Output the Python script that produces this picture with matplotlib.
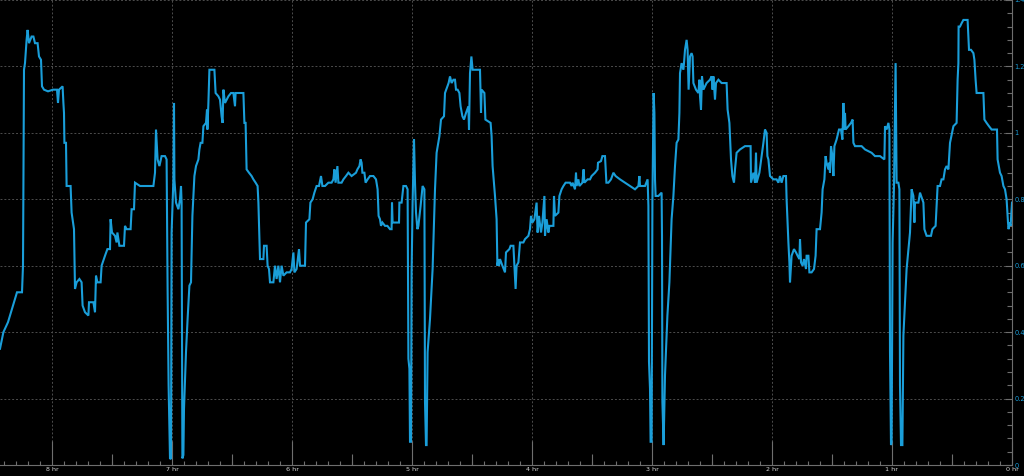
import matplotlib
matplotlib.use("Agg")
import matplotlib.pyplot as plt
from matplotlib.ticker import MultipleLocator, FixedLocator

# time in minutes before now
minutes_ago = [
    506, 505, 504.3, 502, 499.5, 497.5, 495, 494.5, 494, 493.5, 492.7, 492.2, 491.5, 490.2, 489.3,
    488.5, 487.2, 486.5, 485.5, 485, 484, 482, 479.5, 477.5, 477, 476.5, 474.7, 474.3, 474, 473.8,
    473, 472.7, 470.7, 470.2, 469, 468.5, 467.7, 466.3, 465.2, 464.7, 463.5, 461.8, 461.5, 459.3,
    458.5, 458, 457.3, 455.7, 455.2, 453.5, 452.3, 451, 450.7, 450, 448.5, 447.7, 447.3, 446.3,
    445.2, 444, 443.5, 442.7, 440.7, 440.2, 439, 438.5, 436, 429.3, 428.5, 428, 427.2, 426.3,
    425.2, 423.5, 422.7, 422.2, 421.7, 421,
    420.5, 420.2, 419.3, 419, 418.8, 418, 416.8, 416, 415.5, 415.2, 414.8, 414.3, 414, 413, 412.2,
    411.3, 410.5, 409.8, 408.8, 408, 406.8, 406.3, 405.7, 404.8, 404.3, 403, 402.5, 402.3, 401.8,
    401.3, 399.3, 398.8, 398.2, 396.8, 396, 395.2, 394.7, 394.3, 393.5, 391.8, 390.5, 389.3, 388.5,
    388.2, 386.5, 385.2, 384.3, 383.8, 383.2, 382.7, 381.5, 380.2, 379.3, 378.2, 377.2, 376.8, 376,
    374.3, 374, 372.7, 372.2, 371.5, 371, 369.3, 368.5, 367.7, 366.8, 366, 365.2, 364.3, 362.7,
    361, 360.2, 359.3, 358.8, 357.7, 356.5, 356, 353.5, 353, 351.3, 350.8, 349.7, 348.8, 347.7,
    346.5, 345.5, 344.8, 343.5, 341.8, 340.2,
    339.3, 338.8, 338.2, 337.3, 336.8, 335.2, 334.3, 333, 331.8, 330.2, 328, 327.3, 326.3, 325.7,
    325.2, 324.8, 323.8, 323.2, 322.2, 321, 319.3, 318, 317.2, 316.7, 316, 315.5, 314.8, 313.5,
    312.3, 311, 310.2, 310, 309.7, 306.5, 306.3, 305.2, 304.3, 303, 302.2, 301.8, 301.3, 301,
    300.5, 300.2, 299.7, 299, 298.5, 298, 297.3, 296.8, 295.7, 294.7, 293.8, 293.5, 293, 292.7,
    292.2, 291, 289.7, 288.5, 287.7, 286.3, 285.5, 284, 283.5, 282.3, 281.7, 281, 280.2, 279.3,
    278.5, 278, 277.2, 276.3, 275.7, 274.8, 274, 273, 271.8, 271.5, 271, 270.3, 269.7, 269, 267.7,
    266, 265.5, 265.2, 263.8, 263.3, 260.7, 260.2, 259.7, 258.5, 257.7, 257.3, 256.8,
    256.5, 256, 254.8, 253.5, 253, 251.3, 250.7, 249.3, 248.8, 248.2, 247.7, 246.8, 246, 244.3,
    243.5, 241.8, 241, 240.5, 239.8, 238.8, 237.7, 237.2, 236.5, 235.5, 234.8, 233.8, 233.5,
    232.7, 231.8, 231.3, 229.3, 229, 228.5, 226.8, 226.3, 225.2, 224.3, 223.2, 222.2, 221, 220.2,
    219.7, 218.5, 218, 217.7, 216.8, 216.3, 214.8, 214.2, 213.8, 212.2, 211, 210.2, 208.5, 207.2,
    207, 205.5, 204.8, 203.5, 202.8, 201.8, 200.5, 199.3, 198.2, 196, 193.5, 191, 188.5, 186.8,
    186.3, 186, 183.5, 182.2, 181.8, 181.5, 181, 180.7, 180.2, 179.8, 179.2, 178.8, 178.5, 178.2,
    176.8, 175.2, 175, 174.8, 174.2,
    173.5, 172.3, 171.3, 170.2, 169.3, 168.5, 167.7, 166.8, 166.3, 166, 165.2, 164.3, 164, 163.5,
    162.7, 162.2, 161.7, 161, 160.2, 159.7, 159.3, 158, 156.8, 156.3, 156, 155.5, 155, 154.3,
    153.5, 152.7, 151, 150.2, 149.7, 149.3, 148.5, 148, 146.8, 145.2, 143.5, 142.7, 142.2, 141.3,
    141, 140.5, 139.8, 139, 138.5, 137.7, 136, 133.5, 131.3, 130.7, 130.5, 129.3, 128.5, 128,
    127.7, 126.8, 126.3, 125.2, 124.3, 123.5, 122.7, 122.3, 121.8, 121, 119.3, 117.7, 116.8, 116,
    115.2, 114.3, 113, 112.7, 111.8, 111.3, 111, 110.2, 109, 108, 107.2, 106.3, 106, 105.5, 104.7,
    104, 103, 102.7, 101.8, 101.3, 100.2, 99, 98.2, 97.7, 96, 95.2, 94.7, 93.8, 93.2, 92.7, 91.8,
    91.5, 91, 90.5, 89.8, 89.3, 88.8, 87.7, 86.5, 85.5, 84.8, 84.3, 83.8, 83.5, 83.2, 81.8, 80.5,
    79.7, 79.3, 78.5, 76.8, 75.2, 73.5, 71.8, 70.2, 68.5, 66, 63.8, 63.5, 62.7, 61.8, 61.3, 61,
    60.5, 60.2, 59.7, 59, 58.5, 58.2, 57.7, 56.8, 56.3, 56, 55.5, 54.8, 54.3, 52.7, 51, 50.2, 49.3,
    48.8, 48.5, 46.8, 46, 44.3, 43.8, 42.7, 40.5, 39.8, 38.2, 37.2, 36, 35.2, 34.3, 33.5, 32.7,
    31.8, 31, 29.3, 27.7, 27.2, 26.8, 26.7, 26, 25.2, 24.3, 22.7, 22.2, 21.5, 20.5, 19.3, 18.8,
    18.2, 17.7, 14.3, 13.8, 12.7, 11.5, 10.2, 7.5, 7.2, 6, 5.2, 4.3, 3.5, 2.7, 2, 1.7, 1.2, 0.7, 0,
]
values = [
    0.35, 0.38, 0.40, 0.43, 0.48, 0.52, 0.52, 0.60, 1.19, 1.21, 1.28, 1.31, 1.27, 1.29, 1.29,
    1.27, 1.27, 1.23, 1.22, 1.14, 1.13, 1.125, 1.13, 1.13, 1.09, 1.13, 1.14, 1.09, 1.06, 0.97,
    0.97, 0.84, 0.84, 0.76, 0.71, 0.53, 0.55, 0.56, 0.55, 0.48, 0.46, 0.45, 0.49, 0.49,
    0.46, 0.57, 0.55, 0.55, 0.60, 0.63, 0.65, 0.65, 0.74, 0.70, 0.69, 0.67, 0.70, 0.66,
    0.66, 0.66, 0.72, 0.71, 0.71, 0.77, 0.77, 0.85, 0.84, 0.84, 0.88, 1.01, 0.92, 0.90,
    0.93, 0.93, 0.92, 0.53, 0.24, 0.02,
    0.018, 0.70, 0.86, 1.09, 0.86, 0.79, 0.77, 0.80, 0.84, 0.79, 0.02, 0.03, 0.17, 0.34, 0.44,
    0.54, 0.55, 0.75, 0.87, 0.90, 0.92, 0.95, 0.97, 0.97, 1.02, 1.03, 1.07, 1.01, 1.09,
    1.19, 1.19, 1.19, 1.12, 1.11, 1.10, 1.05, 1.03, 1.13, 1.09, 1.11, 1.12, 1.12, 1.08,
    1.12, 1.12, 1.12, 1.12, 1.03, 1.03, 0.89, 0.88, 0.87, 0.86, 0.85, 0.84, 0.79, 0.62,
    0.62, 0.66, 0.66, 0.60, 0.59, 0.55, 0.55, 0.60, 0.56, 0.60, 0.55, 0.60, 0.57, 0.58,
    0.58, 0.59, 0.64, 0.58, 0.59, 0.65, 0.60, 0.60, 0.73, 0.74, 0.79, 0.80, 0.82, 0.84,
    0.84, 0.87, 0.84, 0.84, 0.85, 0.85,
    0.86, 0.89, 0.85, 0.90, 0.85, 0.85, 0.86, 0.87, 0.88, 0.87, 0.88, 0.89, 0.90, 0.92,
    0.91, 0.88, 0.88, 0.85, 0.86, 0.87, 0.87, 0.86, 0.83, 0.75, 0.74, 0.72, 0.73, 0.72,
    0.72, 0.71, 0.71, 0.79, 0.73, 0.73, 0.79, 0.79, 0.84, 0.84, 0.83, 0.32, 0.29, 0.07,
    0.07, 0.58, 0.79, 0.98, 0.85, 0.76, 0.71, 0.72, 0.78, 0.84, 0.83, 0.19, 0.06, 0.06,
    0.34, 0.44, 0.59, 0.83, 0.94, 0.99, 1.04, 1.05, 1.12, 1.14, 1.15, 1.17, 1.15, 1.16,
    1.16, 1.13, 1.13, 1.12, 1.08, 1.05, 1.04, 1.06, 1.08, 1.01, 1.18, 1.23, 1.19, 1.19, 1.19,
    1.19, 1.06, 1.13, 1.12, 1.04, 1.03, 0.99, 0.90, 0.81, 0.74, 0.60, 0.62,
    0.60, 0.62, 0.60, 0.58, 0.64, 0.65, 0.66, 0.66, 0.60, 0.53, 0.60, 0.61, 0.67, 0.67,
    0.68, 0.69, 0.71, 0.75, 0.73, 0.74, 0.79, 0.70, 0.75, 0.70, 0.73, 0.81, 0.69,
    0.74, 0.70, 0.72, 0.72, 0.81, 0.75, 0.76, 0.81, 0.83, 0.84, 0.85, 0.85, 0.85, 0.84,
    0.85, 0.83, 0.88, 0.84, 0.86, 0.84, 0.85, 0.89, 0.85, 0.86, 0.86, 0.87, 0.88, 0.89,
    0.91, 0.915, 0.93, 0.93, 0.85, 0.85, 0.86, 0.88, 0.87, 0.86, 0.85, 0.84, 0.83, 0.84,
    0.87, 0.84, 0.84, 0.86, 0.78, 0.31, 0.23, 0.07, 0.07, 0.79, 1.12, 1.06, 0.86, 0.81,
    0.81, 0.82, 0.69, 0.19, 0.06,
    0.27, 0.45, 0.55, 0.74, 0.81, 0.90, 0.97, 0.98, 1.06, 1.18, 1.21, 1.19, 1.21, 1.25,
    1.28, 1.25, 1.13, 1.23, 1.24, 1.23, 1.15, 1.13, 1.12, 1.16, 1.11, 1.07, 1.17, 1.13,
    1.14, 1.15, 1.16, 1.17, 1.13, 1.17, 1.10, 1.15, 1.16, 1.15, 1.15, 1.15, 1.07, 1.03,
    0.99, 0.92, 0.87, 0.85, 0.89, 0.94, 0.95, 0.96, 0.96, 0.96, 0.85, 0.88, 0.85, 0.94,
    0.85, 0.87, 0.88, 0.93, 0.97, 1.01, 1.00, 0.93, 0.92, 0.87, 0.86, 0.86, 0.85, 0.87,
    0.85, 0.87, 0.87, 0.80, 0.67, 0.61, 0.55, 0.63, 0.65, 0.64, 0.63, 0.62, 0.68, 0.61, 0.60,
    0.62, 0.59, 0.63, 0.63, 0.58, 0.58, 0.59, 0.63, 0.71, 0.71, 0.76, 0.83, 0.86, 0.93, 0.91, 0.89,
    0.91, 0.88, 0.96, 0.93, 0.87, 0.96, 0.98, 1.01, 1.01, 0.98, 1.09, 1.01, 1.06, 1.01, 1.02, 1.03,
    1.04, 0.97, 0.96, 0.96, 0.96, 0.95, 0.945, 0.94, 0.93, 0.93, 0.92, 1.02, 1.01, 1.03, 1.01, 0.34,
    0.06, 0.07, 0.67, 0.84, 1.06, 1.21, 0.85, 0.85, 0.83, 0.24, 0.06, 0.06, 0.39, 0.59, 0.70, 0.83, 0.81,
    0.73, 0.79, 0.79, 0.82, 0.79, 0.71, 0.69, 0.69, 0.71, 0.72, 0.84, 0.84, 0.86, 0.86, 0.89, 0.90,
    0.89, 0.97, 1.02, 1.03, 1.16, 1.21, 1.32, 1.32, 1.33, 1.34, 1.34, 1.34, 1.25, 1.25, 1.24, 1.22,
    1.16, 1.12, 1.12, 1.04, 1.03, 1.02, 1.01, 1.01, 0.92, 0.88, 0.87, 0.84, 0.83, 0.80, 0.73, 0.71, 0.73, 0.72, 0.79,
]

hour_ticks = [0, 60, 120, 180, 240, 300, 360, 420, 480]
hour_labels = ['0 hr', '1 hr', '2 hr', '3 hr', '4 hr', '5 hr', '6 hr', '7 hr', '8 hr']
half_hour_ticks = [30, 90, 150, 210, 270, 330, 390, 450]

line_color = '#1a9ed9'
grid_color = '#4d4d4d'
axis_color = '#6e6e6e'

fig = plt.figure(figsize=(10.24, 4.76), dpi=100, facecolor='black')
ax = fig.add_axes([0, 11 / 476, 1012 / 1024, 465 / 476])
ax.set_facecolor('black')

ax.plot(minutes_ago, values, color=line_color, linewidth=1.5, solid_joinstyle='miter')

ax.set_xlim(506, 0)
ax.set_ylim(0, 1.4)

# grid
ax.set_xticks(hour_ticks)
ax.set_xticklabels(hour_labels)
ax.xaxis.set_minor_locator(MultipleLocator(6))
ax.yaxis.set_major_locator(MultipleLocator(0.2))
ax.yaxis.set_minor_locator(MultipleLocator(0.04))
ax.grid(True, which='major', color=grid_color, linestyle=(0, (2, 2)), linewidth=0.7)

for side in ['top', 'left']:
    ax.spines[side].set_visible(False)
for side in ['right', 'bottom']:
    ax.spines[side].set_color(axis_color)
    ax.spines[side].set_linewidth(0.8)

ax.yaxis.tick_right()
ax.tick_params(axis='y', which='major', direction='in', length=5, width=0.8, color=axis_color,
               labelcolor=line_color, labelsize=4.8, pad=2)
ax.tick_params(axis='y', which='minor', direction='in', length=3.6, width=0.8, color=axis_color)
ax.tick_params(axis='x', which='major', direction='in', length=17, width=0.8, color=axis_color,
               labelcolor='#d8d8d8', labelsize=4.6, pad=1.5)
ax.tick_params(axis='x', which='minor', direction='in', length=3.2, width=0.8, color=axis_color)
ax.set_yticklabels([('%g' % t) for t in ax.get_yticks()])

# medium ticks at the half hours
sec = ax.secondary_xaxis('bottom')
sec.xaxis.set_major_locator(FixedLocator(half_hour_ticks))
sec.xaxis.set_minor_locator(FixedLocator([]))
sec.set_xticklabels([])
sec.spines['bottom'].set_visible(False)
sec.tick_params(axis='x', which='major', direction='in', length=8, width=0.8, color=axis_color)

fig.savefig('out.png', dpi=100, facecolor='black')
